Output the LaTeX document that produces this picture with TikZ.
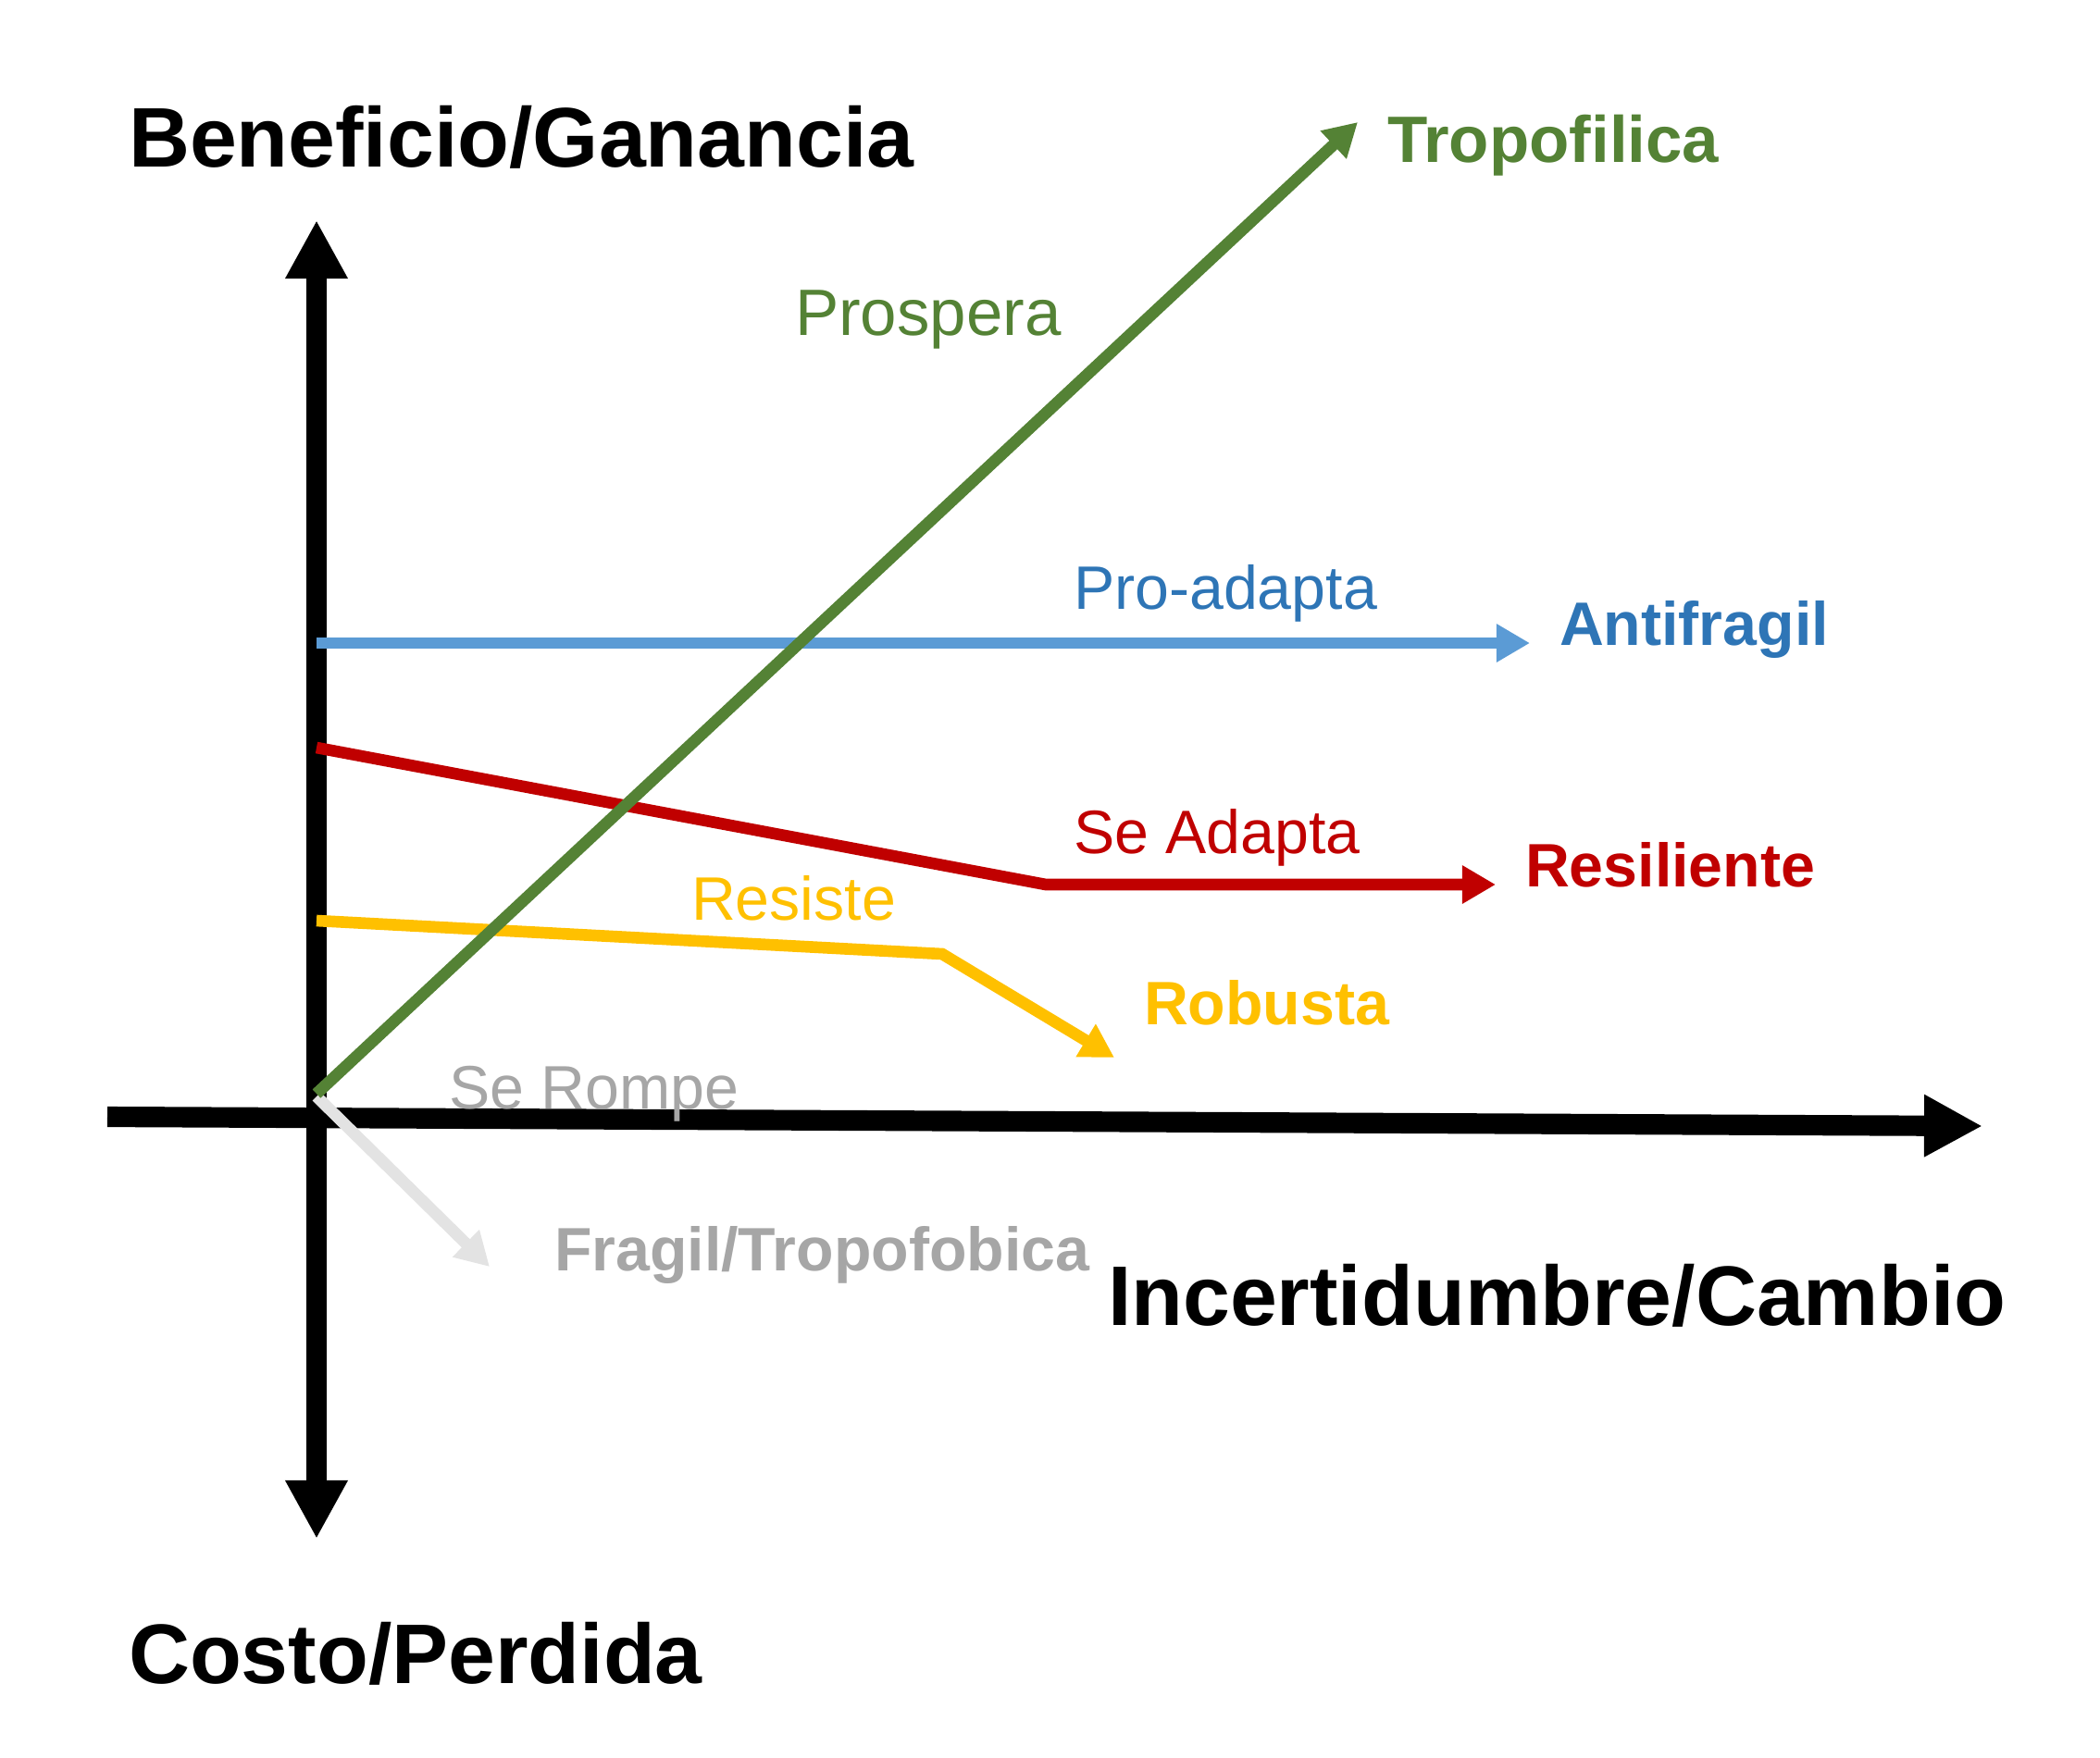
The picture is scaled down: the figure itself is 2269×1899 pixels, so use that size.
\documentclass[tikz,border=0pt]{standalone}
\usepackage{fontspec}
\setmainfont{Liberation Sans}
\usetikzlibrary{arrows.meta}
\definecolor{cgreen}{HTML}{548235}
\definecolor{cblue}{HTML}{5B9BD5}
\definecolor{cbluetext}{HTML}{2E75B6}
\definecolor{cred}{HTML}{C00000}
\definecolor{cyellow}{HTML}{FFC000}
\definecolor{cgreytext}{HTML}{A6A6A6}
\definecolor{cgreyline}{HTML}{E3E3E3}
\tikzset{
  bigtip/.tip={Triangle[length=6.3mm,width=6.3mm]},
  smalltip/.tip={Triangle[length=3.6mm,width=3.9mm]},
  axisline/.style={line width=6.3pt, line cap=butt},
  curveline/.style={line width=3.6pt, line cap=butt, line join=miter, -smalltip},
  lbl/.style={anchor=base west, inner sep=0pt, outer sep=0pt},
  bigtxt/.style={lbl, font=\fontsize{26.0pt}{31pt}\selectfont\bfseries},
  midtxt/.style={lbl, font=\fontsize{18.85pt}{22pt}\selectfont},
  midbold/.style={lbl, font=\fontsize{18.85pt}{22pt}\selectfont\bfseries},
  lrgtxt/.style={lbl, font=\fontsize{20.15pt}{24pt}\selectfont},
  lrgbold/.style={lbl, font=\fontsize{20.15pt}{24pt}\selectfont\bfseries},
}
\begin{document}
\begin{tikzpicture}[x=0.01cm,y=-0.01cm]
\path[use as bounding box] (0,0) rectangle (2269,1899);
% coordinates
\coordinate (vtop) at (342,238);
\coordinate (vbot) at (342,1663);
\coordinate (hleft) at (116,1207);
\coordinate (hright) at (2142,1217);
\coordinate (gs) at (342,1182);
\coordinate (gt) at (1467,132);
\coordinate (bs) at (342,695);
\coordinate (bt) at (1653,695);
\coordinate (rs) at (342,808);
\coordinate (rk) at (1130,956);
\coordinate (rt) at (1616,956);
\coordinate (ys) at (342,995);
\coordinate (yk) at (1018,1031);
\coordinate (yt) at (1204,1143);
\coordinate (fs) at (342,1185);
\coordinate (ft) at (529,1369);
% axes
\draw[axisline, bigtip-bigtip] (vtop) -- (vbot);
\draw[axisline, -bigtip] (hleft) -- (hright);
% curves
\draw[curveline, cgreyline] (fs) -- (ft);
\draw[curveline, cyellow] (ys) -- (yk) -- (yt);
\draw[curveline, cred] (rs) -- (rk) -- (rt);
\draw[curveline, cblue] (bs) -- (bt);
\draw[curveline, cgreen] (gs) -- (gt);
% labels
\node[bigtxt] (ben) at (139,180) {Beneficio/Ganancia};
\node[bigtxt] (cos) at (139,1819) {Costo/Perdida};
\node[bigtxt] (inc) at (1197,1432) {Incertidumbre/Cambio};
\node[lrgbold, text=cgreen] (tro) at (1499,175) {Tropofilica};
\node[lrgtxt, text=cgreen] (pros) at (859,362) {Prospera};
\node[midtxt, text=cbluetext] (proad) at (1160,658) {Pro-adapta};
\node[midbold, text=cbluetext] (anti) at (1685,697) {Antifragil};
\node[midtxt, text=cred] (sead) at (1160,922) {Se Adapta};
\node[midbold, text=cred] (resil) at (1648,958) {Resiliente};
\node[midtxt, text=cyellow] (resis) at (747,994) {Resiste};
\node[midbold, text=cyellow] (rob) at (1236,1107) {Robusta};
\node[midtxt, text=cgreytext] (rom) at (485,1198) {Se Rompe};
\node[midbold, text=cgreytext] (frag) at (599,1373) {Fragil/Tropofobica};
\end{tikzpicture}
\end{document}
